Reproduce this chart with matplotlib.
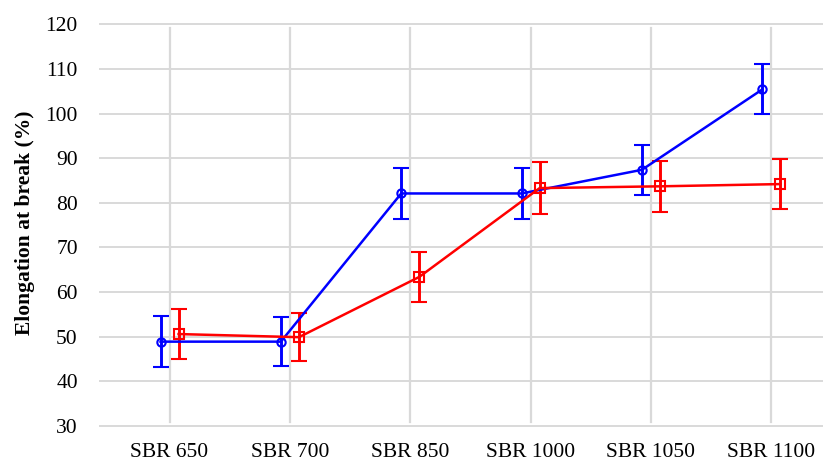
import matplotlib.pyplot as plt
import numpy as np

# Elongation at break for each SBR grade, two series with their deviations
grades = ['SBR 650', 'SBR 700', 'SBR 850', 'SBR 1000', 'SBR 1050', 'SBR 1100']
blue_vals = [48.9, 48.9, 82.1, 82.1, 87.4, 105.4]
blue_err = [5.7, 5.5, 5.7, 5.8, 5.6, 5.6]
red_vals = [50.6, 49.9, 63.4, 83.3, 83.7, 84.2]
red_err = [5.6, 5.4, 5.6, 5.9, 5.7, 5.6]
y_ticks = [30, 40, 50, 60, 70, 80, 90, 100, 110, 120]

plt.rcParams['font.family'] = ['Liberation Serif', 'DejaVu Serif']

fig = plt.figure(figsize=(8.23, 4.66), dpi=100)
ax = fig.add_axes([100 / 823, 1 - 426 / 466, 723 / 823, (426 - 24.3) / 466])

x = np.arange(len(grades))
shift = 0.075

# grid: full-width horizontal lines, vertical lines stopping short of the edges
for yv in y_ticks:
    ax.axhline(yv, color='#d9d9d9', lw=1.4, zorder=0, clip_on=False)
for xv in x:
    ax.axvline(xv, ymin=0.01, ymax=0.99, color='#d9d9d9', lw=1.6, zorder=0)

ax.errorbar(x - shift, blue_vals, yerr=blue_err, color='#0000ff', lw=1.8,
            marker='o', ms=6, mfc='none', mew=1.5, elinewidth=2.1,
            capsize=5.5, capthick=2.1, zorder=3)
ax.errorbar(x + shift, red_vals, yerr=red_err, color='#ff0000', lw=1.8,
            marker='s', ms=7, mfc='none', mew=1.5, elinewidth=2.1,
            capsize=5.5, capthick=2.1, zorder=3)

ax.set_xlim(-0.578, 5.43)
ax.set_ylim(30, 120)
ax.set_xticks(x)
ax.set_xticklabels(grades)
ax.set_yticks(y_ticks)
ax.tick_params(axis='both', length=0, labelsize=15.5)
ax.tick_params(axis='y', pad=16)
ax.tick_params(axis='x', pad=12)
for s in ax.spines.values():
    s.set_visible(False)

ax.set_ylabel('Elongation at break (%)', fontsize=15.5, fontweight='bold')
ax.yaxis.set_label_coords(-0.09, 0.505)

plt.savefig('out.png', dpi=100)
